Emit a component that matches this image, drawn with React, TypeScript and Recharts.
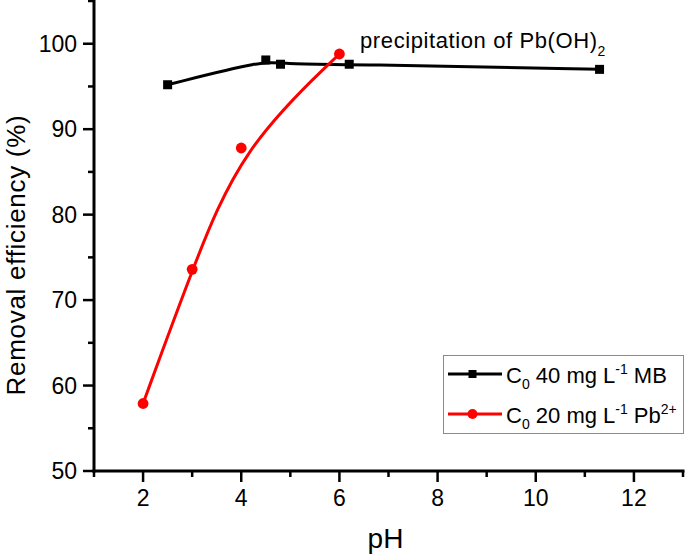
import React from 'react';
import { LineChart, Line, XAxis, YAxis, Legend, ReferenceDot } from 'recharts';

// MB series (black squares)
const mbPH = [2.5, 4.5, 4.8, 6.2, 11.3];
const mbRemoval = [95.2, 98.1, 97.6, 97.6, 97.0];

// Pb2+ series (red circles)
const pbPH = [2, 3, 4, 6];
const pbRemoval = [57.9, 73.6, 87.8, 98.8];

const xTicks = [1, 2, 3, 4, 5, 6, 7, 8, 9, 10, 11, 12, 13];
const xMajorTicks = [2, 4, 6, 8, 10, 12];
const yTicks = [50, 55, 60, 65, 70, 75, 80, 85, 90, 95, 100, 105];
const yMajorTicks = [50, 60, 70, 80, 90, 100];

const noteText = 'precipitation of Pb(OH)';
const noteSub = '2';
const notePH = 6.42;
const noteRemoval = 99.5;

const mbData = mbPH.map((ph, i) => ({ ph, removal: mbRemoval[i] }));
const pbData = pbPH.map((ph, i) => ({ ph, removal: pbRemoval[i] }));

const FONT = '"Liberation Sans", Arial, Helvetica, sans-serif';

const XTick = (props: any) => {
    const { x, y, payload } = props;
    const major = xMajorTicks.includes(payload.value);
    return (
        <g>
            <line x1={x} x2={x} y1={y} y2={y + (major ? 11 : 6)} stroke="#000" strokeWidth={2.5} />
            {major && (
                <text x={x} y={y + 35} textAnchor="middle" fontSize={23} fill="#000" fontFamily={FONT}>
                    {payload.value}
                </text>
            )}
        </g>
    );
};

const YTick = (props: any) => {
    const { x, y, payload } = props;
    const major = yMajorTicks.includes(payload.value);
    return (
        <g>
            <line x1={x} x2={x - (major ? 11 : 6)} y1={y} y2={y} stroke="#000" strokeWidth={2.5} />
            {major && (
                <text x={x - 17} y={y + 8} textAnchor="end" fontSize={23} fill="#000" fontFamily={FONT}>
                    {payload.value}
                </text>
            )}
        </g>
    );
};

const SquareDot = (props: any) => {
    const { cx, cy, index } = props;
    return <rect key={`sq-${index}`} x={cx - 4.5} y={cy - 4.5} width={9} height={9} fill="#000" />;
};

const CircleDot = (props: any) => {
    const { cx, cy, index } = props;
    return <circle key={`ci-${index}`} cx={cx} cy={cy} r={5.4} fill="#ff0000" />;
};

const renderXLabel = (props: any) => {
    const vb = props.viewBox;
    return (
        <text x={vb.x + vb.width / 2 - 3} y={vb.y + 77} textAnchor="middle" fontSize={28} fill="#000" fontFamily={FONT}>
            pH
        </text>
    );
};

const renderYLabel = (props: any) => {
    const vb = props.viewBox;
    const cx = vb.x + 24.5;
    const cy = vb.y + vb.height / 2 + 19;
    return (
        <text x={cx} y={cy} transform={`rotate(-90 ${cx} ${cy})`} textAnchor="middle" fontSize={26} fill="#000" fontFamily={FONT} letterSpacing={0.7}>
            Removal efficiency (%)
        </text>
    );
};

const renderNote = (props: any) => {
    const vb = props.viewBox;
    const x = vb.x + vb.width / 2;
    const y = vb.y + vb.height / 2;
    return (
        <text x={x} y={y} fontSize={22} fill="#000" fontFamily={FONT} letterSpacing={0.6}>
            {noteText}
            <tspan fontSize={14} dy={8}>{noteSub}</tspan>
        </text>
    );
};

const renderLegend = () => (
    <svg width={241} height={79} style={{ display: 'block' }}>
        <rect x={0.5} y={0.5} width={240} height={78} fill="#fff" stroke="#8a8a8a" strokeWidth={1} />
        <line x1={5} x2={59} y1={19} y2={19} stroke="#000" strokeWidth={3} />
        <rect x={25.5} y={15} width={8} height={8} fill="#000" />
        <text x={63} y={27.5} fontSize={22} fill="#000" fontFamily={FONT}>
            C<tspan fontSize={14} dy={6}>0</tspan>
            <tspan dy={-6}> 40 mg L</tspan>
            <tspan fontSize={14} dy={-9}>-1</tspan>
            <tspan dy={9}> MB</tspan>
        </text>
        <line x1={5} x2={59} y1={59} y2={59} stroke="#ff0000" strokeWidth={3} />
        <circle cx={29.5} cy={59} r={5} fill="#ff0000" />
        <text x={63} y={67.5} fontSize={22} fill="#000" fontFamily={FONT}>
            C<tspan fontSize={14} dy={6}>0</tspan>
            <tspan dy={-6}> 20 mg L</tspan>
            <tspan fontSize={14} dy={-9}>-1</tspan>
            <tspan dy={9}> Pb</tspan>
            <tspan fontSize={14} dy={-9}>2+</tspan>
        </text>
    </svg>
);

const App: React.FC = () => {
    return (
        <div style={{ position: 'absolute', left: 0, top: 0, background: '#fff' }}>
            <LineChart
                width={685}
                height={554}
                margin={{ top: 1, right: 2, bottom: 0, left: 0 }}
                style={{ fontFamily: FONT }}
            >
                <XAxis
                    dataKey="ph"
                    type="number"
                    domain={[1, 13]}
                    ticks={xTicks}
                    interval={0}
                    height={83}
                    tickSize={0}
                    tickMargin={0}
                    tickLine={false}
                    tick={XTick}
                    axisLine={{ stroke: '#000', strokeWidth: 3, strokeLinecap: 'square' }}
                    label={renderXLabel}
                    allowDuplicatedCategory={false}
                />
                <YAxis
                    type="number"
                    domain={[50, 105]}
                    ticks={yTicks}
                    interval={0}
                    width={94}
                    tickSize={0}
                    tickMargin={0}
                    tickLine={false}
                    tick={YTick}
                    axisLine={{ stroke: '#000', strokeWidth: 3, strokeLinecap: 'square' }}
                    label={renderYLabel}
                />
                <Line
                    data={mbData}
                    dataKey="removal"
                    type="basis"
                    stroke="#000"
                    strokeWidth={3}
                    dot={SquareDot}
                    activeDot={false}
                    isAnimationActive={false}
                />
                <Line
                    data={pbData}
                    dataKey="removal"
                    type="basis"
                    stroke="#ff0000"
                    strokeWidth={3}
                    dot={CircleDot}
                    activeDot={false}
                    isAnimationActive={false}
                />
                <ReferenceDot x={notePH} y={noteRemoval} r={1} fill="none" stroke="none" label={renderNote} />
                <Legend
                    layout="vertical"
                    align="center"
                    verticalAlign="middle"
                    content={renderLegend}
                    wrapperStyle={{ left: 443, top: 355, width: 241, height: 79 }}
                />
            </LineChart>
        </div>
    );
};

export default App;
